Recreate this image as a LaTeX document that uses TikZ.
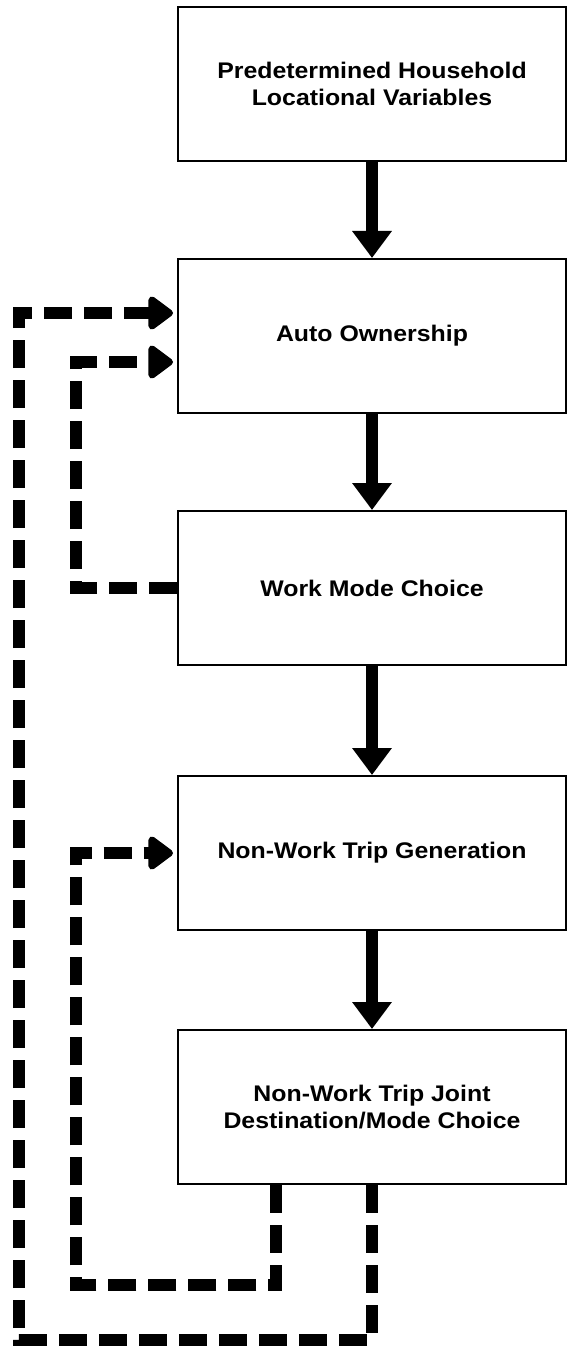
\documentclass[tikz,border=0pt]{standalone}
\usepackage{fontspec}
\setmainfont{Liberation Sans}[FakeStretch=1.1]
\usetikzlibrary{arrows.meta,calc}

\begin{document}
\begin{tikzpicture}[x=0.5pt,y=-0.5pt,
  stage/.style={draw,line width=1pt,minimum width=194pt,minimum height=77pt,align=center,
    font=\fontsize{11.3}{13.5}\selectfont\bfseries},
  flow/.style={line width=6pt,-{Triangle[width=19pt,length=13.5pt]}},
  fb/.style={line width=6pt,dash pattern=on 14pt off 6pt,shorten >=2pt,
    -{Triangle[width=19pt,length=13.5pt,round]}}]
\useasboundingbox (0,0) rectangle (568,1348);

\node[stage] (b1) at (372,84)   {Predetermined Household\\Locational Variables};
\node[stage] (b2) at (372,336)  {Auto Ownership};
\node[stage] (b3) at (372,588)  {Work Mode Choice};
\node[stage] (b4) at (372,853)  {Non-Work Trip Generation};
\node[stage] (b5) at (372,1107) {Non-Work Trip Joint\\Destination/Mode Choice};

\draw[flow] (b1) -- (b2);
\draw[flow] (b2) -- (b3);
\draw[flow] (b3) -- (b4);
\draw[flow] (b4) -- (b5);

% feedback loops
\coordinate (outer) at (19,1340);
\coordinate (inner) at (76,1285);
\coordinate (b5left) at ($(b5.south west)!0.255!(b5.south east)$);

\draw[fb] (b5.south) |- (outer) |- ([yshift=11.5pt]b2.west);
\draw[fb] (b3.west) -- (b3.west -| inner) |- ([yshift=-13pt]b2.west);
\draw[fb] (b5left) |- (inner) |- (b4.west);
\end{tikzpicture}
\end{document}
